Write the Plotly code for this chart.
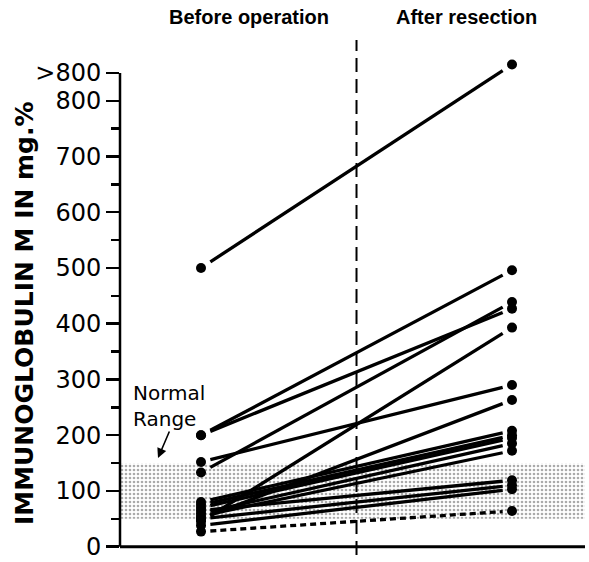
import plotly.graph_objects as go

# ---- data -------------------------------------------------------------
stages = ["Before operation", "After resection"]
stage_pos = [0.0, 1.0]
before = [500, 200, 200, 133, 152, 45, 50, 80, 75, 70, 60, 55, 65, 50, 38, 27]
after = [865, 496, 427, 439, 290, 393, 263, 208, 200, 195, 185, 172, 119, 110, 103, 64]
line_dash = ["solid"] * 15 + ["dash"]
normal_range = [50, 150]
y_tick_vals = [0, 100, 200, 300, 400, 500, 600, 700, 800, 850]
y_tick_text = ["0", "100", "200", "300", "400", "500", "600", "700", "800", ">800"]
y_minor_vals = [50, 150, 250, 350, 450, 550, 650, 750]
axis_top = 850

# ---- geometry ---------------------------------------------------------
W, H = 589, 562
ML, MR, MT, MB = 120, 4, 40, 15
x_range = [-0.2605, 1.2347]
y_range = [-0.6, 909]
gap = 0.03  # fraction of segment left empty next to each dot
plot_h = H - MT - MB
plot_w = W - ML - MR

def px_to_paper_y(py):
    return (H - MB - py) / plot_h

def px_to_paper_x(px):
    return (px - ML) / plot_w

fig = go.Figure()

# stippled normal-range band
fig.add_trace(go.Scatter(
    x=[x_range[0], x_range[1], x_range[1], x_range[0], x_range[0]],
    y=[normal_range[0], normal_range[0], normal_range[1], normal_range[1], normal_range[0]],
    mode="lines", line=dict(width=0), fill="toself",
    fillcolor="rgba(255,255,255,0)",
    fillpattern=dict(shape=".", fgcolor="#555555", bgcolor="white", size=4, solidity=0.35),
    hoverinfo="skip", showlegend=False))

# connecting lines (shortened so they stop just short of the dots)
for b, a, d in zip(before, after, line_dash):
    x0, x1 = stage_pos
    xs = [x0 + (x1 - x0) * gap, x0 + (x1 - x0) * (1 - gap)]
    ys = [b + (a - b) * gap, b + (a - b) * (1 - gap)]
    fig.add_trace(go.Scatter(
        x=xs, y=ys, mode="lines",
        line=dict(color="black", width=3.3, dash="6px,4px" if d == "dash" else "solid"),
        hoverinfo="skip", showlegend=False))

# dots
fig.add_trace(go.Scatter(
    x=[stage_pos[0]] * len(before) + [stage_pos[1]] * len(after),
    y=before + after, mode="markers",
    marker=dict(color="black", size=10, line=dict(width=0)),
    hoverinfo="skip", showlegend=False))

span = y_range[1] - y_range[0]
zero_p = (0 - y_range[0]) / span
mid_x = (0.5 - x_range[0]) / (x_range[1] - x_range[0])
shapes = [
    # y axis line up to the >800 tick
    dict(type="line", xref="paper", yref="paper", x0=0, x1=0, y0=zero_p,
         y1=(axis_top - y_range[0]) / span, line=dict(color="black", width=2.5)),
    # bottom axis line
    dict(type="line", xref="paper", yref="paper", x0=0, x1=1, y0=zero_p, y1=zero_p,
         line=dict(color="black", width=3)),
    # dashed separator between the two stages
    dict(type="line", xref="paper", yref="paper", x0=mid_x, x1=mid_x,
         y0=-8 / plot_h, y1=1.0, line=dict(color="black", width=2, dash="14px,7px")),
]

head_y = px_to_paper_y(17)
head_font = dict(family="Liberation Sans, Arial, sans-serif", size=20, color="black")
annotations = [
    dict(text="<b>Before operation</b>", xref="paper", yref="paper",
         x=px_to_paper_x(249), y=head_y,
         showarrow=False, font=head_font, xanchor="center", yanchor="middle"),
    dict(text="<b>After resection</b>", xref="paper", yref="paper",
         x=px_to_paper_x(466), y=head_y,
         showarrow=False, font=head_font, xanchor="center", yanchor="middle"),
    dict(text="<b>IMMUNOGLOBULIN M IN mg.%</b>", xref="paper", yref="paper",
         x=px_to_paper_x(24), y=px_to_paper_y(313), textangle=-90, showarrow=False,
         font=dict(family="DejaVu Sans", size=25, color="black"),
         xanchor="center", yanchor="middle"),
    dict(text="Normal<br>Range", xref="paper", yref="paper",
         x=px_to_paper_x(131), y=px_to_paper_y(379),
         xanchor="left", yanchor="top", align="left", showarrow=False,
         font=dict(family="DejaVu Sans", size=20, color="black")),
    dict(text="", xref="paper", yref="paper",
         x=px_to_paper_x(158), y=px_to_paper_y(458),
         showarrow=True, ax=12, ay=-28, arrowhead=2, arrowsize=1.2,
         arrowwidth=1.6, arrowcolor="black"),
]

fig.update_layout(
    width=W, height=H,
    margin=dict(l=ML, r=MR, t=MT, b=MB, autoexpand=False),
    paper_bgcolor="white", plot_bgcolor="white",
    hovermode=False,
    xaxis=dict(range=x_range, visible=False, fixedrange=True, automargin=False),
    yaxis=dict(range=y_range, showgrid=False, zeroline=False, showline=False,
               automargin=False,
               tickmode="array", tickvals=y_tick_vals, ticktext=y_tick_text,
               ticks="outside", ticklen=13, tickwidth=2.5, tickcolor="black",
               ticklabeloverflow="allow",
               tickfont=dict(family="DejaVu Sans", size=24, color="black"),
               minor=dict(tickmode="array", tickvals=y_minor_vals, ticks="outside",
                          ticklen=8, tickwidth=2.5, tickcolor="black"),
               fixedrange=True),
    shapes=shapes, annotations=annotations,
)

fig.write_html("out.html", config={"displayModeBar": False, "staticPlot": True},
               post_script="document.body.style.margin='0';")
